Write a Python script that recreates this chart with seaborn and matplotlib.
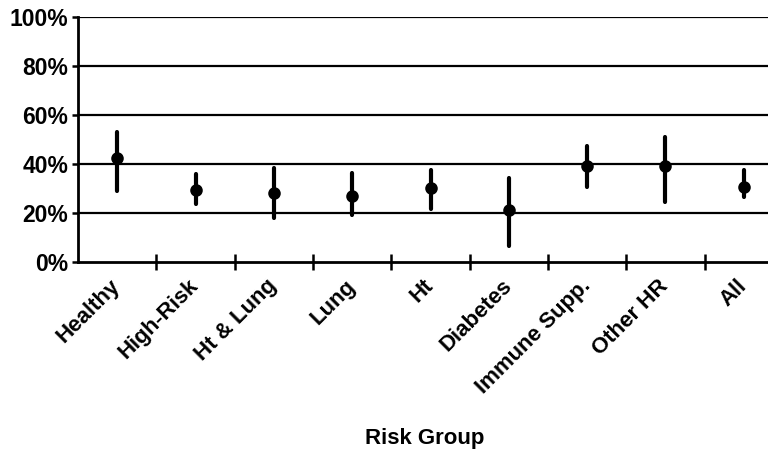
import pandas as pd
import numpy as np
import matplotlib
matplotlib.use('Agg')
import matplotlib.pyplot as plt
import seaborn as sns
from matplotlib.ticker import PercentFormatter, FixedLocator

groups = ['Healthy', 'High-Risk', 'Ht & Lung', 'Lung', 'Ht', 'Diabetes',
          'Immune Supp.', 'Other HR', 'All']
point = [42.4, 29.4, 28.2, 27.0, 30.3, 21.2, 39.2, 39.2, 30.7]
lower = [29.0, 23.5, 18.0, 19.2, 21.6, 6.6, 30.5, 24.6, 26.6]
upper = [53.0, 36.0, 38.4, 36.5, 37.6, 34.3, 47.5, 51.2, 37.6]

# long form: low / estimate / high per group -> median + full range interval
df = pd.DataFrame({
    'group': groups * 3,
    'value': lower + point + upper,
})

sns.set_style('white')
plt.rcParams['font.family'] = ['Liberation Sans', 'DejaVu Sans']
plt.rcParams['font.weight'] = 'bold'
plt.rcParams['text.color'] = 'black'
plt.rcParams['xtick.color'] = 'black'
plt.rcParams['ytick.color'] = 'black'
plt.rcParams['axes.labelcolor'] = 'black'

fig = plt.figure(figsize=(7.68, 4.54), dpi=100)
ax = fig.add_axes([78 / 768, 192 / 454, 705 / 768, 245 / 454])

sns.pointplot(data=df, x='group', y='value', order=groups,
              estimator=np.median, errorbar=('pi', 100),
              linestyle='none', color='black', markersize=7,
              err_kws={'linewidth': 3.0}, ax=ax)

ax.set_ylim(0, 100)
ax.set_xlim(-0.5, len(groups) - 0.5)
ax.set_yticks([0, 20, 40, 60, 80, 100])
ax.yaxis.set_major_formatter(PercentFormatter(decimals=0))
for y in [20, 40, 60, 80, 100]:
    ax.axhline(y, color='black', linewidth=1.6, zorder=0)

for s in ['top', 'right']:
    ax.spines[s].set_visible(False)
ax.spines['left'].set_linewidth(2)
ax.spines['bottom'].set_linewidth(2)
ax.spines['left'].set_color('black')
ax.spines['bottom'].set_color('black')

ax.xaxis.set_minor_locator(FixedLocator(np.arange(0.5, len(groups), 1)))
ax.tick_params(axis='x', which='major', length=0, pad=15)
ax.tick_params(axis='x', which='minor', direction='inout', length=12,
               width=1.8, color='black', bottom=True)
ax.tick_params(axis='y', direction='out', length=4, width=1.8,
               color='black', left=True, labelsize=16.5, pad=3)
ax.set_xticks(range(len(groups)))
ax.set_xticklabels(groups, rotation=45, ha='right', va='center',
                   rotation_mode='anchor', fontsize=16, fontweight='bold')
for lab in ax.get_yticklabels():
    lab.set_fontweight('bold')

ax.set_ylabel('')
ax.set_xlabel('Risk Group', fontsize=16, fontweight='bold')
ax.xaxis.set_label_coords((425 - 78) / 705, -(428 - 262) / 245)

fig.savefig('out.png', dpi=100)
